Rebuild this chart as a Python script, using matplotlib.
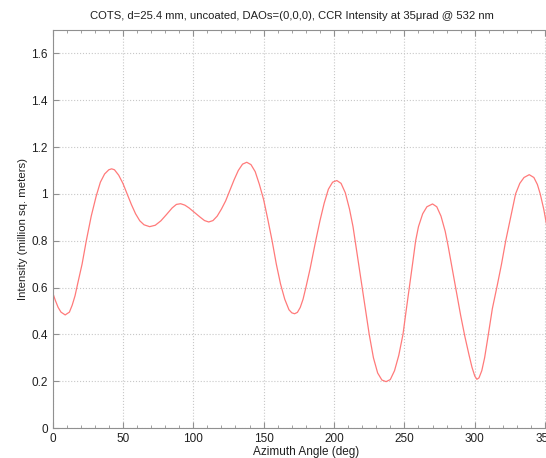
import matplotlib
matplotlib.use("Agg")
import matplotlib.pyplot as plt
from matplotlib.ticker import MultipleLocator

plt.rcParams['font.family'] = ['Liberation Sans', 'DejaVu Sans']

# Values (azimuth in degrees, intensity in million sq. m)
azimuth = [0, 2, 4, 6, 9, 12, 14, 16, 18, 21, 24, 27.5, 31, 34, 37, 40, 42, 44,
           47, 50, 53, 56, 59, 62, 65, 69, 73, 77, 81, 85, 88, 91, 94, 97, 101,
           105, 108, 111, 114, 117, 120, 123, 126, 129, 132, 135, 138, 141, 144,
           147, 150, 153, 156, 159, 162, 165, 168, 170, 172, 174, 176, 178, 180,
           183, 187, 190, 193, 196, 199, 202, 205, 208, 211, 213.5, 215, 217.5,
           220, 222.5, 225, 228, 231, 234, 237, 240, 243, 246, 249, 251, 253.5,
           256, 258, 260, 263, 266, 270, 273, 276, 279, 281, 284, 287, 290, 293,
           296, 298, 300, 301.5, 303, 305, 307, 309, 312.5, 316, 319, 322, 325.5,
           329, 332, 335, 338.7, 342, 344.5, 346.5, 349, 351, 355, 360]
intensity = [0.58, 0.545, 0.515, 0.495, 0.483, 0.495, 0.525, 0.565, 0.62, 0.70,
             0.80, 0.905, 0.99, 1.05, 1.085, 1.103, 1.107, 1.103, 1.08, 1.045,
             1.00, 0.955, 0.915, 0.885, 0.868, 0.86, 0.866, 0.885, 0.912, 0.94,
             0.955, 0.958, 0.952, 0.94, 0.92, 0.90, 0.886, 0.88, 0.886, 0.905,
             0.935, 0.97, 1.015, 1.06, 1.10, 1.127, 1.135, 1.125, 1.095, 1.04,
             0.975, 0.89, 0.80, 0.70, 0.615, 0.55, 0.505, 0.492, 0.488, 0.494,
             0.515, 0.55, 0.60, 0.68, 0.80, 0.885, 0.96, 1.02, 1.05, 1.057,
             1.045, 1.005, 0.935, 0.86, 0.80, 0.70, 0.60, 0.50, 0.40, 0.30,
             0.235, 0.205, 0.198, 0.207, 0.245, 0.31, 0.40, 0.49, 0.60, 0.71,
             0.80, 0.86, 0.915, 0.945, 0.957, 0.945, 0.905, 0.84, 0.78, 0.68,
             0.58, 0.48, 0.39, 0.31, 0.26, 0.222, 0.208, 0.214, 0.245, 0.30,
             0.375, 0.51, 0.61, 0.70, 0.80, 0.90, 1.00, 1.045, 1.07, 1.082, 1.07,
             1.04, 1.00, 0.935, 0.87, 0.72, 0.58]

x_ticks = [0, 50, 100, 150, 200, 250, 300, 350]
y_ticks = [0, 0.2, 0.4, 0.6, 0.8, 1.0, 1.2, 1.4, 1.6]
y_tick_labels = ["0", "0.2", "0.4", "0.6", "0.8", "1", "1.2", "1.4", "1.6"]

fig = plt.figure(figsize=(5.46, 4.58), dpi=100)
# right edge of the axes falls outside the image, as in the reference
ax = fig.add_axes([0.0962, 0.0655, 0.928, 0.869])

ax.plot(azimuth, intensity, color='#ff7a7a', lw=0.9)

ax.set_xlim(0, 360)
ax.set_ylim(0, 1.7)
ax.set_xticks(x_ticks)
ax.set_yticks(y_ticks)
ax.set_yticklabels(y_tick_labels)
ax.xaxis.set_minor_locator(MultipleLocator(10))

ax.grid(True, which='major', linestyle=':', color='#c8c8c8', lw=0.8)
for s in ax.spines.values():
    s.set_color('#909090')
ax.tick_params(which='both', direction='in', top=True, right=True,
               colors='#909090', labelcolor='#202020', labelsize=8.5)
ax.tick_params(which='major', length=4)
ax.tick_params(which='minor', length=2.5)

ax.set_xlabel("Azimuth Angle (deg)", fontsize=8.5, color='#202020', labelpad=1)
ax.set_ylabel("Intensity (million sq. meters)", fontsize=8.2, color='#202020',
              labelpad=2)
ax.set_title("COTS, d=25.4 mm, uncoated, DAOs=(0,0,0), CCR Intensity at 35\u03bcrad @ 532 nm",
             fontsize=8.1, color='#202020', pad=8, x=0.473)

fig.savefig("out.png", dpi=100)
